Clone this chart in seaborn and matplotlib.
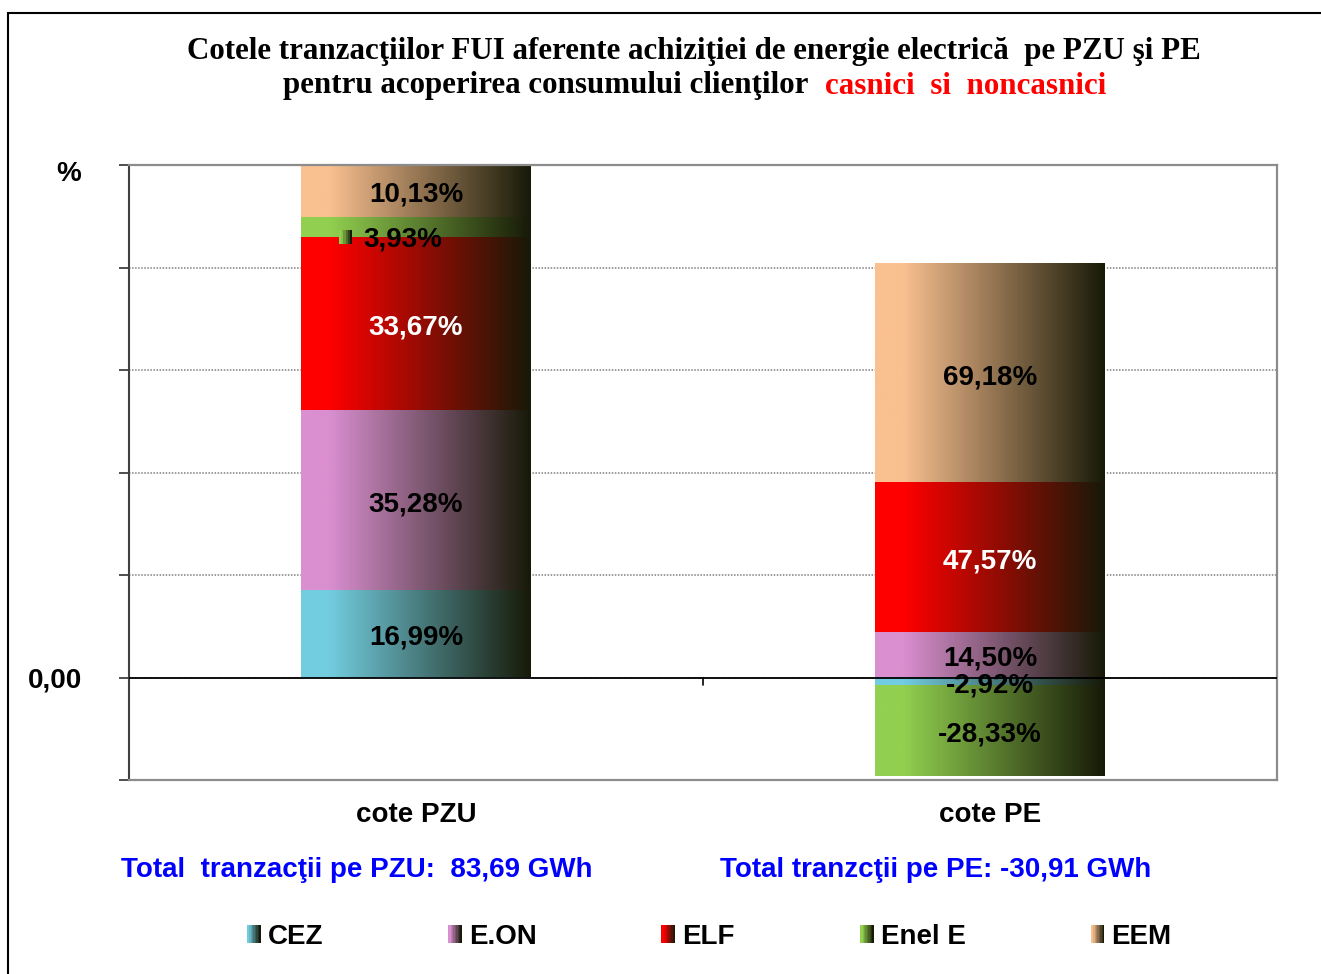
import numpy as np
import pandas as pd
import matplotlib.pyplot as plt
import matplotlib.colors as mcolors
import matplotlib.transforms as mtransforms
from matplotlib.patches import Rectangle
from matplotlib.legend_handler import HandlerBase
import seaborn as sns

piete = ["cote PZU", "cote PE"]
firme = ["CEZ", "E.ON", "ELF", "Enel E", "EEM"]
culori = ["#72CDE0", "#DA8FD0", "#FF0000", "#92D050", "#FAC090"]

# cotele afisate pe bare (%)
cote_pzu = [16.99, 35.28, 33.67, 3.93, 10.13]
cote_pe = [-2.92, 14.50, 47.57, -28.33, 69.18]
# inaltimea segmentelor
inaltime_pzu = [16.99, 35.28, 33.67, 3.93, 10.13]
inaltime_pe = [-1.64, 8.84, 29.22, -17.57, 42.61]
# etichete albe
albe = ["ELF"]

total_pzu = "83,69"
total_pe = "-30,91"

INCHIS = np.array([0.09, 0.10, 0.03])
FS = 20


def degrade(culoare, n=256):
    baza = np.array(mcolors.to_rgb(culoare))
    t = np.linspace(0, 1, n)
    f = np.clip((t - 0.12) / 0.88, 0, 1)
    return baza[None, :] * (1 - f[:, None]) + INCHIS[None, :] * f[:, None]


class HandlerGradient(HandlerBase):
    def create_artists(self, legend, orig_handle, xdescent, ydescent,
                       width, height, fontsize, trans):
        n = 10
        cul = degrade(orig_handle.get_facecolor(), n)
        benzi = []
        for k in range(n):
            benzi.append(Rectangle((-xdescent + k * width / n, -ydescent),
                                   width / n * 1.05, height,
                                   facecolor=cul[k], edgecolor="none",
                                   transform=trans))
        return benzi


def build_frame():
    rows = []
    for piata, inaltimi, cote in [("cote PZU", inaltime_pzu, cote_pzu),
                                  ("cote PE", inaltime_pe, cote_pe)]:
        pos, neg = 0.0, 0.0
        for firma, h, c in zip(firme, inaltimi, cote):
            if h >= 0:
                jos = pos
                pos += h
            else:
                jos = neg
                neg += h
            rows.append(dict(piata=piata, firma=firma, inaltime=h, jos=jos,
                             eticheta=f"{c:.2f}%".replace(".", ",")))
    return pd.DataFrame(rows)


def main():
    sns.set_style("white")
    plt.rcParams["font.family"] = ["Liberation Sans", "DejaVu Sans"]
    plt.rcParams["font.weight"] = "bold"
    plt.rcParams["text.color"] = "black"
    plt.rcParams["xtick.labelcolor"] = "black"
    plt.rcParams["ytick.labelcolor"] = "black"

    df = build_frame()

    fig = plt.figure(figsize=(13.21, 9.74), dpi=100)
    ax = fig.add_axes([129 / 1321, 194 / 974, 1148 / 1321, 615 / 974])
    tr_label = mtransforms.offset_copy(ax.transData, fig=fig, x=0, y=-4, units="dots")

    for firma, cul in zip(firme, culori):
        sub = df[df["firma"] == firma].set_index("piata").loc[piete].reset_index()
        n0 = len(ax.patches)
        sns.barplot(data=sub, x="piata", y="inaltime", order=piete, color=cul,
                    width=0.4, saturation=1, errorbar=None, ax=ax, zorder=2)
        for patch, (_, r) in zip(ax.patches[n0:], sub.iterrows()):
            patch.set_y(r["jos"])
            patch.set_height(r["inaltime"])
            x0, w = patch.get_x(), patch.get_width()
            ax.imshow(degrade(cul)[None, :, :],
                      extent=(x0, x0 + w, r["jos"], r["jos"] + r["inaltime"]),
                      aspect="auto", interpolation="bilinear", zorder=2.5)
            xc = x0 + w / 2
            yc = r["jos"] + r["inaltime"] / 2
            culoare_text = "white" if firma in albe else "black"
            if firma == "Enel E" and r["piata"] == "cote PZU":
                # cheia de legenda din eticheta
                tr = mtransforms.offset_copy(ax.transData, fig=fig, x=-13, y=-13, units="dots")
                ax.text(xc, yc, r["eticheta"], ha="center", va="center",
                        fontsize=FS, color=culoare_text, zorder=5, transform=tr)
                base = mtransforms.ScaledTranslation(xc, yc, ax.transData)
                nb = 6
                cb = degrade(cul, nb)
                for k in range(nb):
                    ax.add_patch(Rectangle((-77 + k * 13 / nb, -17), 13 / nb * 1.05, 14,
                                           facecolor=cb[k], edgecolor="none",
                                           transform=mtransforms.IdentityTransform() + base,
                                           zorder=5))
            else:
                ax.text(xc, yc, r["eticheta"], ha="center", va="center",
                        fontsize=FS, color=culoare_text, zorder=5, transform=tr_label)

    ax.axhline(0, color="black", lw=1.3, zorder=4)
    ax.plot([0.5, 0.5], [0, -1.55], color="black", lw=1.2, zorder=4)

    ax.set_xlim(-0.5, 1.5)
    ax.set_ylim(-20, 100)
    ticks = list(range(-20, 101, 20))
    ax.set_yticks(ticks)
    ax.set_yticklabels(["0,00" if v == 0 else "" for v in ticks])
    ax.yaxis.grid(True, linestyle=(0, (1, 1)), color="#7f7f7f", lw=1.1)
    ax.set_axisbelow(True)
    ax.tick_params(axis="y", left=True, length=7, width=1.3, color="#404040",
                   pad=27, labelsize=FS)
    ax.tick_params(axis="x", length=0, pad=16, labelsize=FS)
    ax.set_xlabel("")
    ax.set_ylabel("")
    for s in ["top", "right", "bottom"]:
        ax.spines[s].set_color("#8c8c8c")
        ax.spines[s].set_linewidth(1.6)
    ax.spines["left"].set_color("#404040")
    ax.spines["left"].set_linewidth(1.5)

    # titlu
    fig.text(694 / 1321, 1 - 51 / 974,
             "Cotele tranzacţiilor FUI aferente achiziţiei de energie electrică  pe PZU şi PE",
             ha="center", va="center", family="Liberation Serif", weight="bold", size=22.3)
    fig.text(808 / 1321, 1 - 86 / 974, "pentru acoperirea consumului clienţilor",
             ha="right", va="center", family="Liberation Serif", weight="bold", size=22.3)
    fig.text(825 / 1321, 1 - 86 / 974, "casnici  si  noncasnici",
             ha="left", va="center", family="Liberation Serif", weight="bold", size=22.3,
             color="#FF0000")

    fig.text(69 / 1321, 1 - 174 / 974, "%", ha="center", va="center", size=FS)

    fig.text(121 / 1321, 1 - 870 / 974, f"Total  tranzacţii pe PZU:  {total_pzu} GWh",
             ha="left", va="center", size=FS, color="#0000FF")
    fig.text(720 / 1321, 1 - 870 / 974, f"Total tranzcţii pe PE: {total_pe} GWh",
             ha="left", va="center", size=FS, color="#0000FF")

    handles = [Rectangle((0, 0), 1, 1, facecolor=c) for c in culori]
    fig.legend(handles, firme, handler_map={Rectangle: HandlerGradient()},
               loc="center", bbox_to_anchor=(709 / 1321, 1 - 937 / 974), ncol=5,
               frameon=False, prop=dict(size=FS, weight="bold"),
               handlelength=0.5, handleheight=0.6, handletextpad=0.25,
               columnspacing=4.5)

    fig.add_artist(Rectangle((8 / 1321, -0.1), 1.2, (974 - 13) / 974 + 0.1,
                             transform=fig.transFigure, fill=False,
                             edgecolor="black", lw=1.5))

    fig.savefig("out.png", dpi=100)
    plt.close(fig)


if __name__ == "__main__":
    main()
